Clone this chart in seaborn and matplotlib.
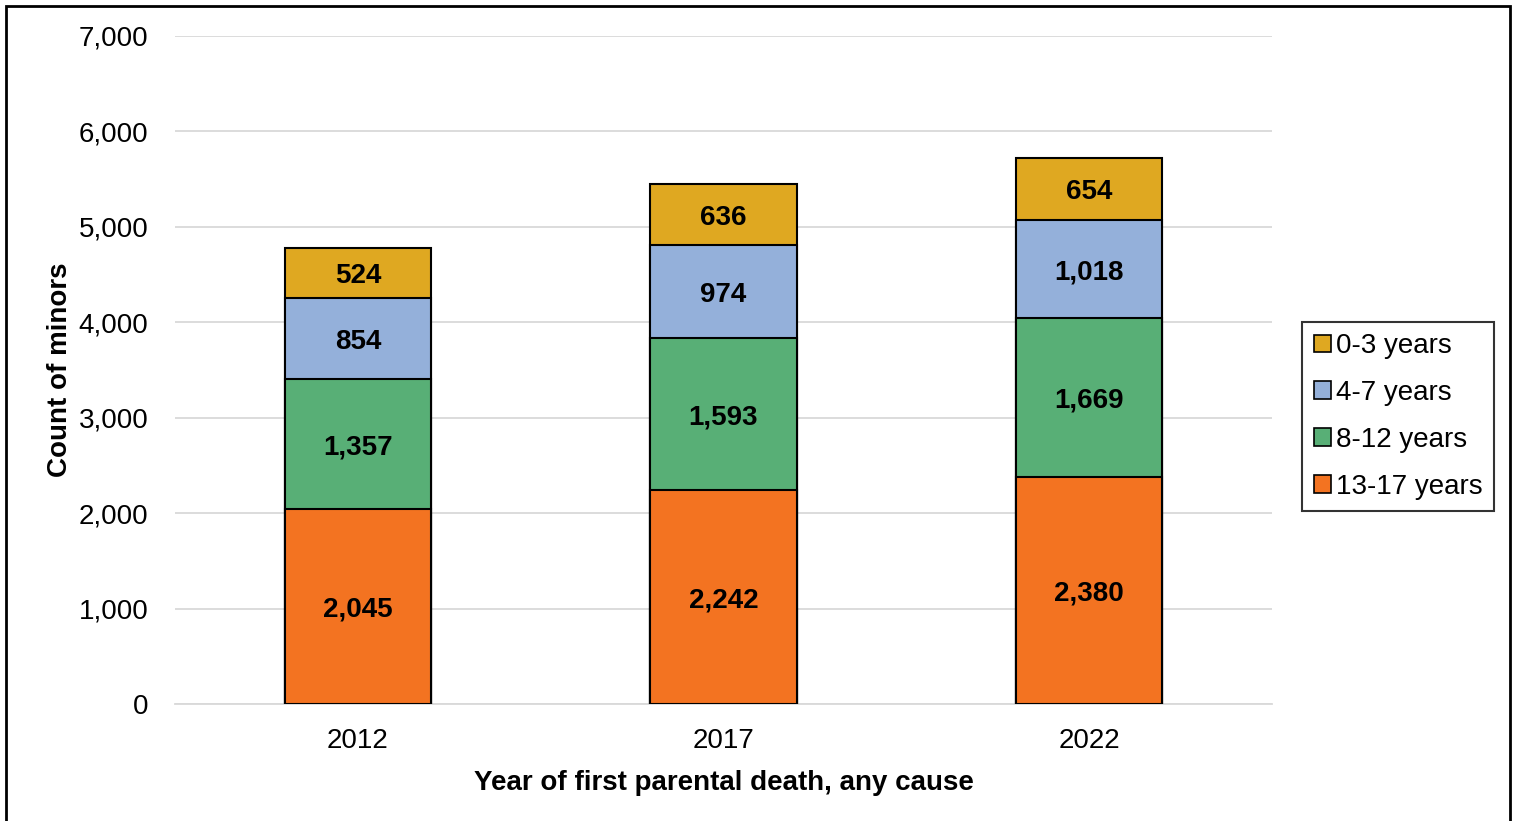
import matplotlib
matplotlib.use("Agg")
import matplotlib.pyplot as plt
from matplotlib import ticker as ticker
from matplotlib.patches import Patch, Rectangle
import numpy as np
import pandas as pd
import seaborn as sns

# data
years = ["2012", "2017", "2022"]
age_groups = ["13-17 years", "8-12 years", "4-7 years", "0-3 years"]  # bottom -> top
age_13_17 = [2045, 2242, 2380]
age_8_12 = [1357, 1593, 1669]
age_4_7 = [854, 974, 1018]
age_0_3 = [524, 636, 654]

colors = {"13-17 years": "#F37321", "8-12 years": "#58AF76",
          "4-7 years": "#94B0DA", "0-3 years": "#DFA821"}

df = pd.DataFrame({"year": years, "13-17 years": age_13_17, "8-12 years": age_8_12,
                   "4-7 years": age_4_7, "0-3 years": age_0_3})
cum = df[age_groups].cumsum(axis=1)

sns.set_style("white")
plt.rcParams['font.family'] = ['Liberation Sans', 'DejaVu Sans']
plt.rcParams['text.color'] = 'black'
plt.rcParams['axes.labelcolor'] = 'black'
plt.rcParams['xtick.color'] = 'black'
plt.rcParams['ytick.color'] = 'black'

fig = plt.figure(figsize=(15.15, 8.21), dpi=100)
ax = fig.add_axes([0.1155, 0.1425, 0.7241, 0.8137])

# stacked bars: draw cumulative totals from the top segment down so each overlays the next
for grp in reversed(age_groups):
    tmp = pd.DataFrame({"year": years, "total": cum[grp]})
    sns.barplot(data=tmp, x="year", y="total", order=years, color=colors[grp],
                saturation=1, width=0.4, edgecolor="black", linewidth=1.5,
                errorbar=None, ax=ax, zorder=3)

# segment labels
for i, yr in enumerate(years):
    base = 0
    for grp in age_groups:
        v = df.loc[i, grp]
        ax.text(i, base + v / 2, f"{v:,}", ha="center", va="center_baseline",
                fontsize=20, fontweight="bold", color="black", zorder=5)
        base += v

ax.set_ylim(0, 7000)
ax.set_xlim(-0.5, 2.5)
ax.yaxis.set_major_locator(ticker.MultipleLocator(1000))
ax.yaxis.set_major_formatter(ticker.StrMethodFormatter("{x:,.0f}"))
ax.grid(axis="y", color="#D9D9D9", linewidth=1.3, zorder=0)
ax.set_axisbelow(True)
for s in ["top", "right", "left"]:
    ax.spines[s].set_visible(False)
ax.spines["bottom"].set_color("#D9D9D9")
ax.spines["bottom"].set_linewidth(1.3)
ax.tick_params(axis="y", length=0, pad=19, labelsize=20)
ax.tick_params(axis="x", length=0, pad=17, labelsize=20)

ax.set_xlabel("Year of first parental death, any cause", fontsize=20,
              fontweight="bold", labelpad=12)
ax.set_ylabel("Count of minors", fontsize=20, fontweight="bold", labelpad=4)

handles = [Patch(facecolor=colors[g], edgecolor="black", linewidth=1.2, label=g)
           for g in reversed(age_groups)]
leg = fig.legend(handles=handles, loc="center", bbox_to_anchor=(0.923, 0.4927),
                 fontsize=20, frameon=True, fancybox=False, edgecolor="black",
                 handlelength=0.6, handleheight=0.6, handletextpad=0.2,
                 labelspacing=0.75, borderpad=0.42, borderaxespad=0)
leg.get_frame().set_linewidth(1.5)

# outer frame around the chart
fig.patches.append(Rectangle((6 / 1515, -0.01), 1504 / 1515, 1 - 6 / 821 + 0.01,
                             transform=fig.transFigure, fill=False,
                             edgecolor="black", linewidth=2))

fig.savefig("out.png", dpi=100)
